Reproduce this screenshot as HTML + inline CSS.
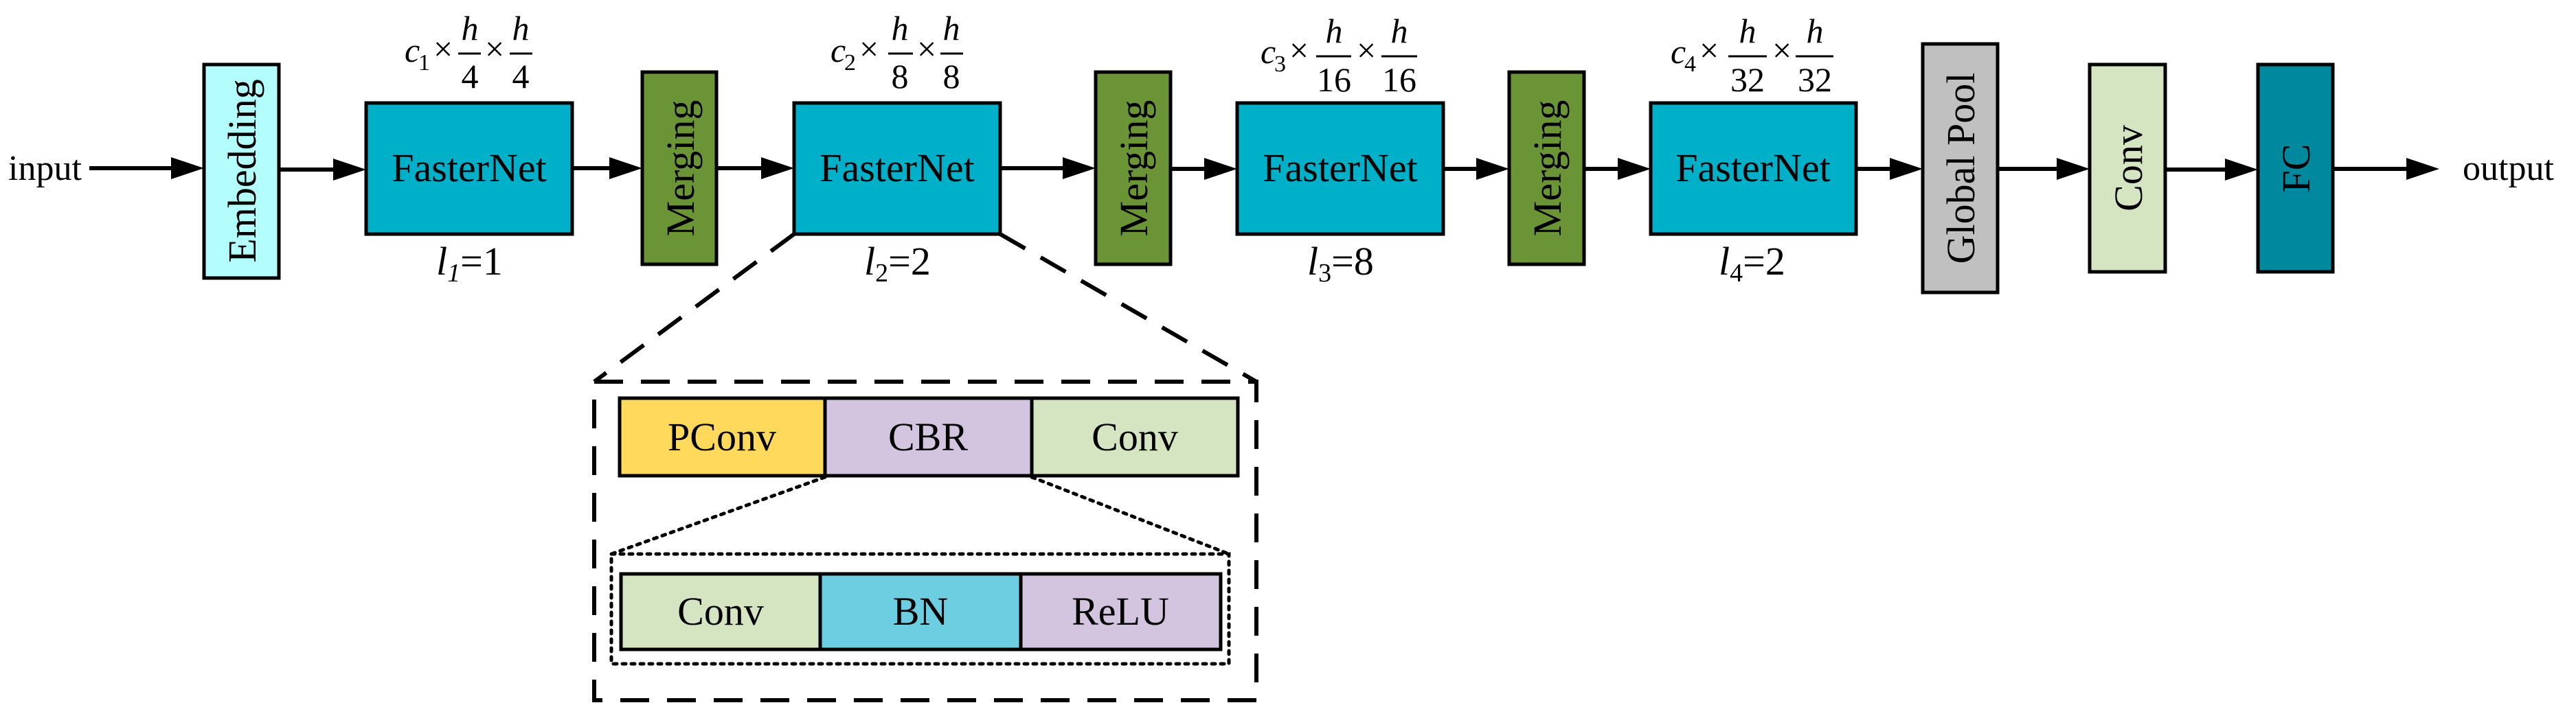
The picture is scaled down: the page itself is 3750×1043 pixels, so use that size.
<!DOCTYPE html>
<html><head><meta charset="utf-8"><style>
html,body{margin:0;padding:0;background:#fff;}
svg{display:block;}
svg text{font-family:"Liberation Serif","Times New Roman",serif !important;fill:#000;}
</style></head><body>
<svg width="3750" height="1043" viewBox="0 0 3750 1043" xmlns="http://www.w3.org/2000/svg" font-family="Liberation Serif, serif">
<g stroke="#000" stroke-width="6" fill="none">
<line x1="130" y1="245" x2="255" y2="245"/>
<line x1="406" y1="247" x2="490" y2="247"/>
<line x1="833" y1="245" x2="892" y2="245"/>
<line x1="1043" y1="245" x2="1112" y2="245"/>
<line x1="1456" y1="245" x2="1552" y2="245"/>
<line x1="1704" y1="246" x2="1758" y2="246"/>
<line x1="2101" y1="246" x2="2154" y2="246"/>
<line x1="2306" y1="246" x2="2360" y2="246"/>
<line x1="2702" y1="246" x2="2756" y2="246"/>
<line x1="2908" y1="246" x2="2999" y2="246"/>
<line x1="3152" y1="247" x2="3244" y2="247"/>
<line x1="3396" y1="246" x2="3508" y2="246"/>
</g>
<g fill="#000">
<polygon points="249,229 297,245 249,261"/>
<polygon points="485,231 533,247 485,263"/>
<polygon points="887,229 935,245 887,261"/>
<polygon points="1108,229 1156,245 1108,261"/>
<polygon points="1547,229 1595,245 1547,261"/>
<polygon points="1753,230 1801,246 1753,262"/>
<polygon points="2149,230 2197,246 2149,262"/>
<polygon points="2355,230 2403,246 2355,262"/>
<polygon points="2751,230 2799,246 2751,262"/>
<polygon points="2994,230 3042,246 2994,262"/>
<polygon points="3239,231 3287,247 3239,263"/>
<polygon points="3503,230 3551,246 3503,262"/>
</g>
<text x="12" y="262" font-size="52" font-family="Liberation Serif, serif">input</text>
<text x="3585" y="262" font-size="52" font-family="Liberation Serif, serif">output</text>

<g stroke="#000" stroke-width="5">
<rect x="297" y="94" width="109" height="311" fill="#b3fdfd"/>
<rect x="533" y="150" width="300" height="191" fill="#00afc8"/>
<rect x="935" y="105" width="108" height="280" fill="#6b9437"/>
<rect x="1156" y="150" width="300" height="191" fill="#00afc8"/>
<rect x="1595" y="105" width="109" height="280" fill="#6b9437"/>
<rect x="1801" y="150" width="300" height="191" fill="#00afc8"/>
<rect x="2197" y="105" width="109" height="280" fill="#6b9437"/>
<rect x="2403" y="150" width="299" height="191" fill="#00afc8"/>
<rect x="2799" y="64" width="109" height="362" fill="#c0c0c0"/>
<rect x="3042" y="94" width="110" height="302" fill="#d6e5c1"/>
<rect x="3287" y="94" width="109" height="302" fill="#00889f"/>
</g>
<g font-size="58" text-anchor="middle" font-family="Liberation Serif, serif">
<text x="683" y="264">FasterNet</text>
<text x="1306" y="264">FasterNet</text>
<text x="1951" y="264">FasterNet</text>
<text x="2552" y="264">FasterNet</text>
</g>
<g font-size="58" text-anchor="middle" font-family="Liberation Serif, serif">
<text transform="translate(372,249) rotate(-90)">Embedding</text>
<text transform="translate(1010,245) rotate(-90)">Merging</text>
<text transform="translate(1670,245) rotate(-90)">Merging</text>
<text transform="translate(2272,245) rotate(-90)">Merging</text>
<text transform="translate(2874,245) rotate(-90)">Global Pool</text>
<text transform="translate(3118,245) rotate(-90)">Conv</text>
<text transform="translate(3362,245) rotate(-90)">FC</text>
</g>

<g font-size="50" font-family="Liberation Serif, serif">
<g transform="translate(589,0)">
<text x="0" y="90" font-style="italic">c</text><text x="20" y="102" font-size="34">1</text>
<text x="42" y="88">×</text><text x="95" y="58" font-style="italic" text-anchor="middle">h</text>
<line x1="78" y1="78" x2="111" y2="78" stroke="#000" stroke-width="3"/>
<text x="95" y="128" text-anchor="middle">4</text>
<text x="117" y="88">×</text><text x="169" y="58" font-style="italic" text-anchor="middle">h</text>
<line x1="153" y1="78" x2="186" y2="78" stroke="#000" stroke-width="3"/>
<text x="169" y="128" text-anchor="middle">4</text>
</g>
<g transform="translate(1209,0)">
<text x="0" y="90" font-style="italic">c</text><text x="20" y="102" font-size="34">2</text>
<text x="42" y="88">×</text><text x="101" y="58" font-style="italic" text-anchor="middle">h</text>
<line x1="84" y1="78" x2="120" y2="78" stroke="#000" stroke-width="3"/>
<text x="101" y="128" text-anchor="middle">8</text>
<text x="126" y="88">×</text><text x="176" y="58" font-style="italic" text-anchor="middle">h</text>
<line x1="160" y1="78" x2="193" y2="78" stroke="#000" stroke-width="3"/>
<text x="176" y="128" text-anchor="middle">8</text>
</g>
<g transform="translate(1835,0)">
<text x="0" y="92" font-style="italic">c</text><text x="20" y="104" font-size="34">3</text>
<text x="42" y="90">×</text><text x="107" y="62" font-style="italic" text-anchor="middle">h</text>
<line x1="81" y1="82" x2="132" y2="82" stroke="#000" stroke-width="3"/>
<text x="107" y="133" text-anchor="middle">16</text>
<text x="140" y="90">×</text><text x="202" y="62" font-style="italic" text-anchor="middle">h</text>
<line x1="176" y1="82" x2="228" y2="82" stroke="#000" stroke-width="3"/>
<text x="202" y="133" text-anchor="middle">16</text>
</g>
<g transform="translate(2432,0)">
<text x="0" y="92" font-style="italic">c</text><text x="20" y="104" font-size="34">4</text>
<text x="42" y="90">×</text><text x="112" y="62" font-style="italic" text-anchor="middle">h</text>
<line x1="84" y1="82" x2="140" y2="82" stroke="#000" stroke-width="3"/>
<text x="112" y="133" text-anchor="middle">32</text>
<text x="148" y="90">×</text><text x="210" y="62" font-style="italic" text-anchor="middle">h</text>
<line x1="182" y1="82" x2="237" y2="82" stroke="#000" stroke-width="3"/>
<text x="210" y="133" text-anchor="middle">32</text>
</g>
</g>
<g font-size="58" font-family="Liberation Serif, serif">
<text x="635" y="400"><tspan font-style="italic">l</tspan><tspan font-size="38" dy="10" font-style="italic">1</tspan><tspan dy="-10">=1</tspan></text>
<text x="1258" y="400"><tspan font-style="italic">l</tspan><tspan font-size="38" dy="10">2</tspan><tspan dy="-10">=2</tspan></text>
<text x="1903" y="400"><tspan font-style="italic">l</tspan><tspan font-size="38" dy="10">3</tspan><tspan dy="-10">=8</tspan></text>
<text x="2502" y="400"><tspan font-style="italic">l</tspan><tspan font-size="38" dy="10">4</tspan><tspan dy="-10">=2</tspan></text>
</g>

<g stroke="#000" stroke-width="6" fill="none" stroke-dasharray="42 26">
<line x1="1156" y1="341" x2="865" y2="556"/>
<line x1="1456" y1="341" x2="1829" y2="556"/>
<rect x="865" y="556" width="964" height="464"/>
</g>
<g stroke="#000" stroke-width="5">
<rect x="902" y="580" width="299" height="113" fill="#ffd95c"/>
<rect x="1201" y="580" width="301" height="113" fill="#d3c4df"/>
<rect x="1502" y="580" width="300" height="113" fill="#d6e5c1"/>
</g>
<g stroke="#000" stroke-width="5" fill="none" stroke-dasharray="5 8" stroke-linecap="round">
<line x1="1201" y1="695" x2="890" y2="807"/>
<line x1="1502" y1="695" x2="1789" y2="807"/>
<rect x="890" y="807" width="899" height="160"/>
</g>
<g stroke="#000" stroke-width="5">
<rect x="904" y="836" width="290" height="110" fill="#d6e5c1"/>
<rect x="1194" y="836" width="292" height="110" fill="#6ccee0"/>
<rect x="1486" y="836" width="291" height="110" fill="#d3c4df"/>
</g>
<g font-size="58" text-anchor="middle" font-family="Liberation Serif, serif">
<text x="1051" y="656">PConv</text>
<text x="1351" y="656">CBR</text>
<text x="1652" y="656">Conv</text>
<text x="1049" y="910">Conv</text>
<text x="1340" y="910">BN</text>
<text x="1631" y="910">ReLU</text>
</g>
</svg>
</body></html>
